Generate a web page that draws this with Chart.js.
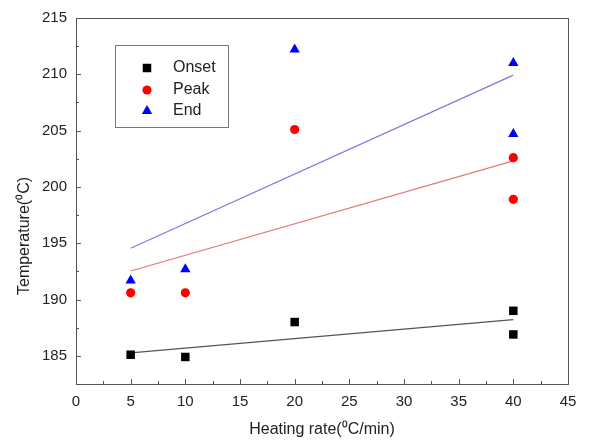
<!DOCTYPE html>
<html><head><meta charset="utf-8">
<script src="https://cdn.jsdelivr.net/npm/chart.js@4/dist/chart.umd.min.js"></script>
<style>html,body{margin:0;padding:0;background:#fff}#wrap{width:595px;height:443px}</style>
</head><body><div id="wrap"><canvas id="c" width="595" height="443"></canvas></div>
<script>
const heatingRate = [5, 10, 20, 40, 40];
const onset = [185.1, 184.9, 188.0, 189.0, 186.9];
const peak = [190.6, 190.6, 205.1, 202.6, 198.9];
const endT = [191.7, 192.7, 212.2, 211.0, 204.7];
const fitX = [5, 40];
const onsetFit = [185.27, 188.21];
const peakFit = [192.53, 202.31];
const endFit = [194.55, 209.93];
const seriesNames = ['Onset', 'Peak', 'End'];
const xTicks = [0,5,10,15,20,25,30,35,40,45];
const yTicks = [185,190,195,200,205,210,215];
const xTitle = 'Heating rate(\u2070C/min)';
const yTitle = 'Temperature(\u2070C)';

const pts = (xs, ys) => xs.map((x, i) => ({x, y: ys[i]}));
const FONT = '"Liberation Sans", Arial, sans-serif';

const decor = {
  id: 'decor',
  afterDraw(chart) {
    const {ctx, chartArea: a, scales: {x, y}} = chart;
    ctx.save();
    ctx.strokeStyle = '#555'; ctx.lineWidth = 1;
    ctx.strokeRect(Math.round(a.left)+0.5, Math.round(a.top)+0.5, Math.round(a.right-a.left), Math.round(a.bottom-a.top));
    ctx.beginPath();
    for (let v = 0; v <= 45.001; v += 2.5) {
      const px = Math.round(x.getPixelForValue(v)) + 0.5;
      const major = Math.abs(v % 5) < 1e-6;
      const L = major ? 5 : 3;
      ctx.moveTo(px, a.bottom); ctx.lineTo(px, a.bottom - L);
    }
    for (let v = 182.5; v <= 215.001; v += 2.5) {
      const py = Math.round(y.getPixelForValue(v)) + 0.5;
      const major = Math.abs(v % 5) < 1e-6;
      const L = major ? 5 : 3;
      ctx.moveTo(a.left, py); ctx.lineTo(a.left + L, py);
    }
    ctx.stroke();
    ctx.fillStyle = '#222';
    ctx.font = '16px ' + FONT;
    ctx.textAlign = 'center'; ctx.textBaseline = 'middle';
    ctx.fillText(xTitle, (a.left + a.right) / 2, 430);
    ctx.save();
    ctx.translate(25, 236);
    ctx.rotate(-Math.PI / 2);
    ctx.fillText(yTitle, 0, 0);
    ctx.restore();
    ctx.strokeStyle = '#777';
    ctx.strokeRect(115.5, 45.5, 113, 82);
    const rows = [68, 90, 111];
    const ds = chart.data.datasets;
    ctx.font = '16px ' + FONT;
    ctx.textAlign = 'left';
    seriesNames.forEach((n, i) => {
      const d = ds[i];
      ctx.fillStyle = d.backgroundColor;
      ctx.strokeStyle = d.borderColor;
      Chart.helpers.drawPoint(ctx, {pointStyle: d.pointStyle, radius: d.pointRadius, rotation: 0, borderWidth: 0}, 147, rows[i]);
      ctx.fillStyle = '#222';
      ctx.fillText(n, 173, rows[i]);
    });
    ctx.restore();
  }
};

new Chart(document.getElementById('c'), {
  type: 'scatter',
  data: {
    datasets: [
      {label: seriesNames[0], data: pts(heatingRate, onset), pointStyle: 'rect', pointRadius: 6, backgroundColor: '#000', borderColor: '#000', borderWidth: 0},
      {label: seriesNames[1], data: pts(heatingRate, peak), pointStyle: 'circle', pointRadius: 4.6, backgroundColor: '#ff0000', borderColor: '#ff0000', borderWidth: 0},
      {label: seriesNames[2], data: pts(heatingRate, endT), pointStyle: 'triangle', pointRadius: 6, backgroundColor: '#0000ff', borderColor: '#0000ff', borderWidth: 0},
      {data: pts(fitX, onsetFit), showLine: true, pointRadius: 0, borderColor: '#555', borderWidth: 1.2},
      {data: pts(fitX, peakFit), showLine: true, pointRadius: 0, borderColor: '#e07a7a', borderWidth: 1.2},
      {data: pts(fitX, endFit), showLine: true, pointRadius: 0, borderColor: '#7a7ae0', borderWidth: 1.2}
    ]
  },
  options: {
    responsive: false, animation: false,
    layout: {padding: {top: 15, right: 27, left: 0, bottom: 0}},
    plugins: {legend: {display: false}, tooltip: {enabled: false}},
    scales: {
      x: {
        type: 'linear', min: 0, max: 45,
        afterBuildTicks: s => { s.ticks = xTicks.map(v => ({value: v})); },
        afterFit: s => { s.height = 443 - 384; },
        grid: {display: false, drawTicks: false},
        border: {display: false},
        ticks: {padding: 9, color: '#222', font: {size: 15, family: FONT}, maxRotation: 0}
      },
      y: {
        type: 'linear', min: 182.5, max: 215,
        afterBuildTicks: s => { s.ticks = yTicks.map(v => ({value: v})); },
        afterFit: s => { s.width = 76; },
        grid: {display: false, drawTicks: false},
        border: {display: false},
        ticks: {padding: 9, color: '#222', font: {size: 15, family: FONT}}
      }
    }
  },
  plugins: [decor]
});
</script></body></html>
